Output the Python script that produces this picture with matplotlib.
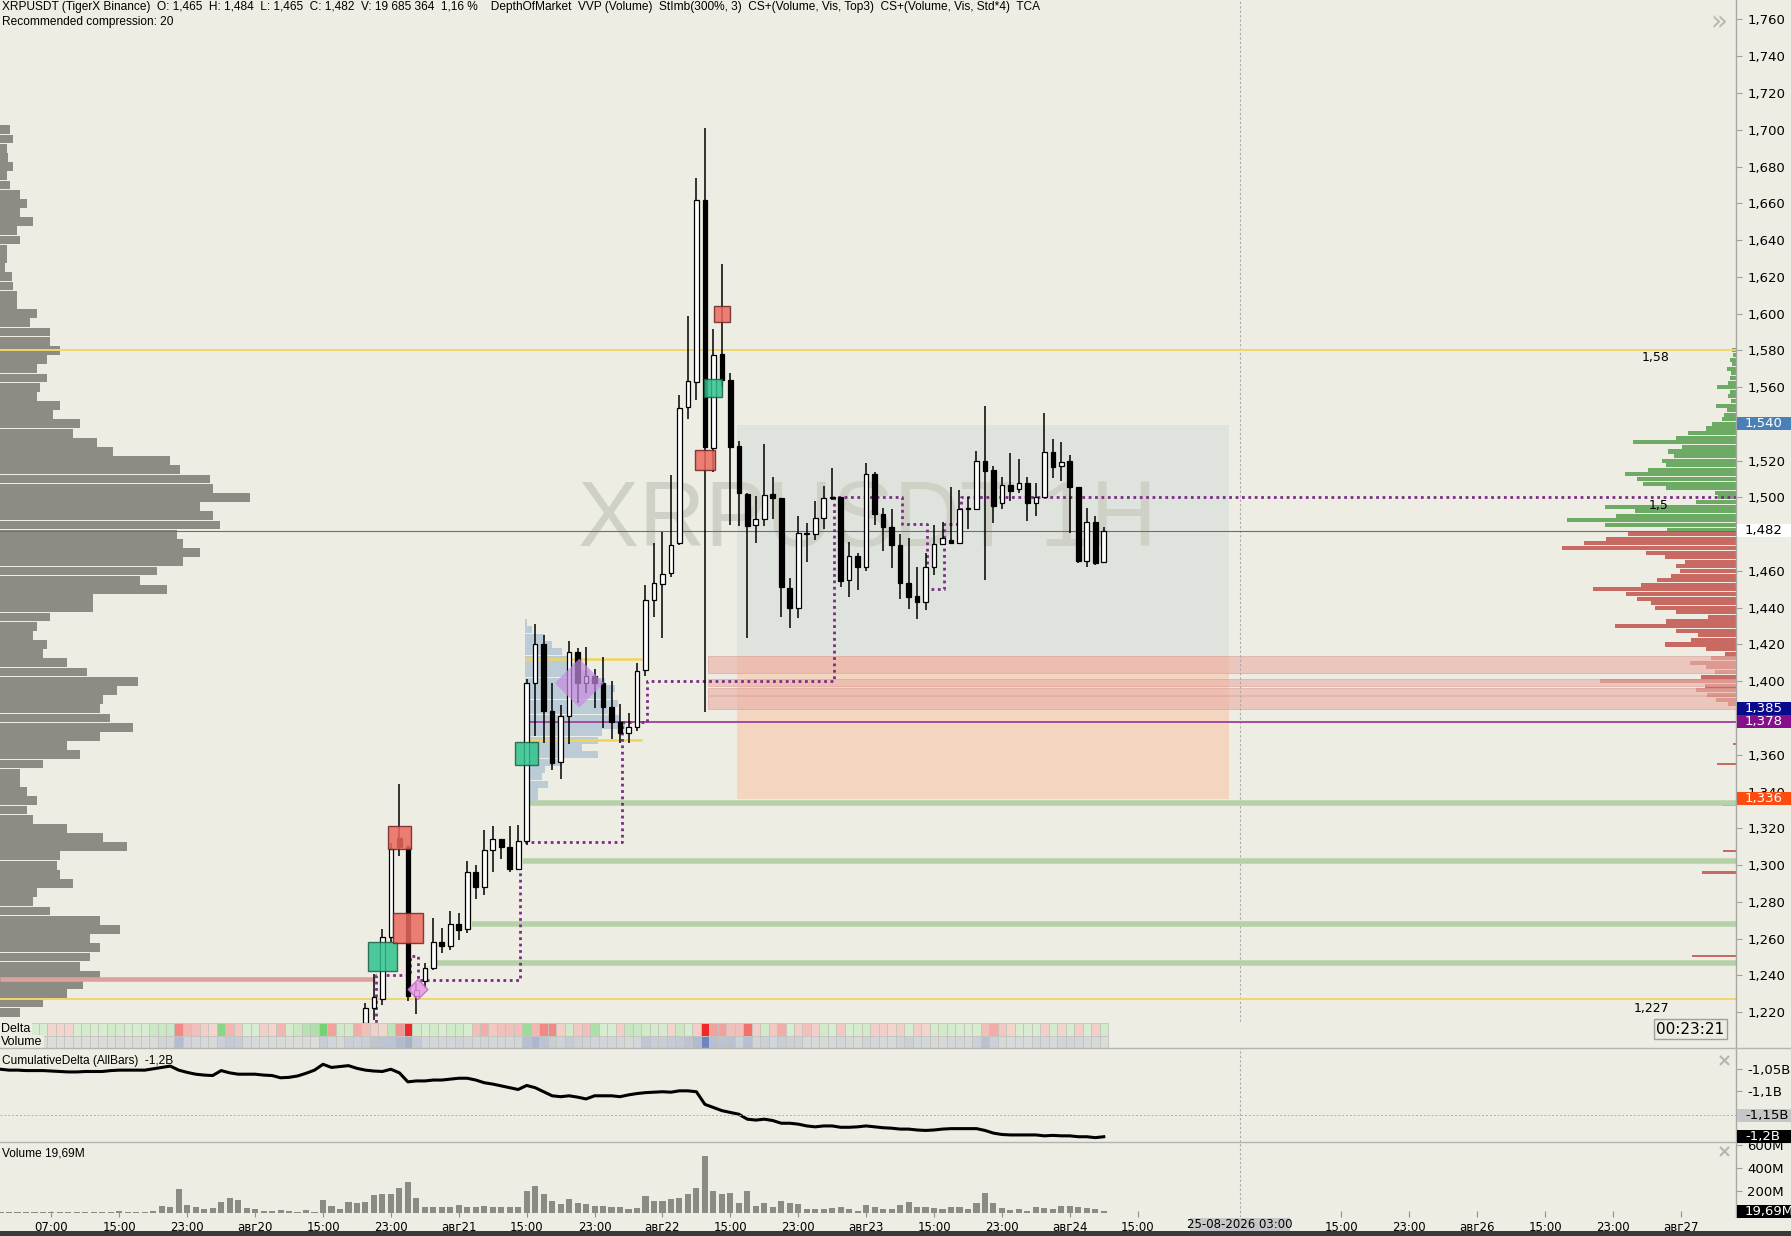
import numpy as np
import matplotlib
matplotlib.use("Agg")
import matplotlib.pyplot as plt
from matplotlib.patches import Rectangle, Polygon
from matplotlib.colors import to_rgb
from matplotlib import font_manager

# ---------------- data ----------------
candle_hours = np.arange(37, 125)
opens = [1.214, 1.222, 1.227, 1.261, 1.315, 1.310, 1.229, 1.237, 1.244, 1.258,
         1.256, 1.268, 1.265, 1.296, 1.288, 1.308, 1.314, 1.310, 1.298, 1.313,
         1.399, 1.420, 1.384, 1.356, 1.381, 1.416, 1.399, 1.403, 1.399, 1.386,
         1.378, 1.372, 1.375, 1.406, 1.444, 1.453, 1.459, 1.475, 1.549, 1.563,
         1.662, 1.527, 1.578, 1.564, 1.528, 1.502, 1.485, 1.488, 1.502, 1.4995,
         1.451, 1.440, 1.480, 1.480, 1.489, 1.4995, 1.500, 1.455, 1.468, 1.462,
         1.5125, 1.491, 1.484, 1.474, 1.4536, 1.4465, 1.443, 1.462, 1.4746, 1.4768,
         1.4754, 1.4937, 1.4937, 1.5198, 1.5149, 1.4968, 1.5067, 1.5046, 1.5076, 1.4968,
         1.5004, 1.5245, 1.5171, 1.5198, 1.5055, 1.4656, 1.4868, 1.465]
closes = [1.222, 1.228, 1.261, 1.309, 1.310, 1.229, 1.232, 1.244, 1.258, 1.256,
          1.268, 1.2645, 1.296, 1.288, 1.308, 1.314, 1.3096, 1.298, 1.313, 1.399,
          1.420, 1.3836, 1.3555, 1.381, 1.416, 1.399, 1.4026, 1.399, 1.386, 1.378,
          1.3718, 1.375, 1.4058, 1.4444, 1.4534, 1.4584, 1.4739, 1.5488, 1.5633, 1.6617,
          1.5273, 1.5777, 1.5637, 1.5273, 1.5023, 1.4846, 1.4883, 1.5012, 1.4995, 1.4514,
          1.4396, 1.4804, 1.4800, 1.4886, 1.4995, 1.5004, 1.4547, 1.4681, 1.462, 1.5125,
          1.4908, 1.4837, 1.4739, 1.4536, 1.4456, 1.4433, 1.462, 1.4746, 1.4777, 1.4754,
          1.4937, 1.4940, 1.5198, 1.5145, 1.4953, 1.5067, 1.5037, 1.5076, 1.4968, 1.5004,
          1.5245, 1.5167, 1.5194, 1.5055, 1.4656, 1.4868, 1.4645, 1.482]
highs = [1.225, 1.241, 1.265, 1.312, 1.344, 1.311, 1.236, 1.247, 1.271, 1.266,
         1.275, 1.274, 1.302, 1.300, 1.319, 1.321, 1.314, 1.321, 1.322, 1.401,
         1.431, 1.425, 1.399, 1.387, 1.422, 1.418, 1.4185, 1.4065, 1.413, 1.400,
         1.3877, 1.3827, 1.410, 1.4523, 1.4754, 1.4814, 1.512, 1.5557, 1.5988, 1.6738,
         1.7007, 1.5917, 1.6268, 1.5676, 1.5305, 1.5023, 1.5008, 1.5288, 1.511, 1.4995,
         1.456, 1.4899, 1.4862, 1.498, 1.506, 1.5158, 1.5004, 1.476, 1.4696, 1.519,
         1.514, 1.494, 1.4935, 1.480, 1.4777, 1.4623, 1.4696, 1.485, 1.4868, 1.5058,
         1.504, 1.500, 1.525, 1.5497, 1.517, 1.511, 1.5243, 1.5207, 1.511, 1.5076,
         1.546, 1.5316, 1.530, 1.523, 1.5055, 1.494, 1.490, 1.484]
lows = [1.205, 1.216, 1.224, 1.258, 1.305, 1.226, 1.219, 1.233, 1.243, 1.252,
        1.254, 1.2595, 1.263, 1.2815, 1.284, 1.296, 1.3033, 1.296, 1.2975, 1.311,
        1.370, 1.3664, 1.352, 1.347, 1.366, 1.388, 1.3935, 1.3854, 1.3745, 1.3685,
        1.3664, 1.3664, 1.3727, 1.403, 1.4351, 1.4233, 1.4566, 1.474, 1.5428, 1.5531,
        1.3834, 1.5137, 1.560, 1.4851, 1.4846, 1.4233, 1.475, 1.4846, 1.488, 1.4351,
        1.4288, 1.4342, 1.465, 1.4768, 1.483, 1.4985, 1.4514, 1.446, 1.4496, 1.460,
        1.485, 1.471, 1.4614, 1.445, 1.4391, 1.4337, 1.4387, 1.4578, 1.474, 1.475,
        1.475, 1.4826, 1.493, 1.455, 1.4859, 1.4935, 1.4982, 1.5022, 1.4873, 1.4899,
        1.500, 1.5104, 1.509, 1.4808, 1.4645, 1.4623, 1.4632, 1.465]

bar_hours = np.arange(-6, 125)
volume_m = [8, 9, 7, 10, 9, 8, 9, 10, 9, 11, 10, 12,
            15, 12, 23, 14, 15, 13, 23,
            67, 58, 212, 73, 52, 35, 44, 96, 131, 116, 44, 35, 23, 23, 29, 20, 15, 29, 9,
            116, 67, 38, 102, 87, 102, 160, 166, 169, 224, 274, 137, 58, 52, 52, 58, 73, 58,
            52, 67, 52, 58, 52, 58,
            195, 242, 169, 108, 79, 125, 87, 79, 67, 67, 58, 52, 38, 50,
            151, 108, 108, 122, 131, 169, 224, 509, 195, 169, 180, 93, 195, 67, 87, 58, 108,
            87, 82, 38, 38, 38, 44, 58, 38, 23, 73, 52, 38, 38,
            73, 96, 58, 52, 44, 38, 52, 52, 38, 87, 180, 87, 44, 29, 35, 23, 58, 50, 38, 67,
            64, 58, 44, 38, 19.69]
cum_delta_m = [-1051, -1053, -1053, -1054, -1054, -1054, -1055, -1056, -1057, -1057,
               -1056, -1056, -1056, -1054, -1053, -1053, -1053, -1053, -1050, -1047,
               -1044, -1053, -1058, -1062, -1064, -1065, -1054, -1059, -1062, -1062,
               -1062, -1064, -1065, -1070, -1069, -1066, -1060, -1053, -1040, -1047,
               -1045, -1043, -1049, -1053, -1055, -1056, -1051, -1059, -1079, -1077,
               -1077, -1075, -1075, -1073, -1071, -1071, -1075, -1081, -1084, -1088,
               -1092, -1096, -1087, -1092, -1101, -1110, -1112, -1110, -1113, -1117,
               -1110, -1110, -1110, -1112, -1108, -1105, -1103, -1102, -1101, -1102,
               -1099, -1099, -1101, -1129, -1136, -1143, -1147, -1151, -1162, -1164,
               -1162, -1165, -1171, -1171, -1173, -1177, -1179, -1177, -1177, -1180,
               -1180, -1179, -1177, -1179, -1181, -1182, -1184, -1184, -1186, -1187,
               -1186, -1184, -1183, -1183, -1183, -1183, -1187, -1193, -1196, -1197,
               -1197, -1197, -1197, -1199, -1198, -1199, -1199, -1201, -1201, -1203, -1201]

# session volume profile on the left (price bins of 0.005, from 1.700 down)
left_prof_price = np.round(np.arange(1.700, 1.2199, -0.005), 3)
left_prof_vol = [10, 13, 7, 8, 13, 7, 10, 20, 27, 20,
                 33, 17, 20, 7, 7, 5, 12, 13, 17, 17,
                 37, 30, 50, 50, 60, 47, 37, 47, 40, 37,
                 60, 53, 80, 73, 97, 113, 170, 180, 210, 213,
                 250, 200, 213, 220, 177, 183, 200, 183, 157, 140,
                 167, 93, 93, 50, 37, 33, 47, 43, 67, 87,
                 138, 117, 103, 100, 110, 133, 100, 67, 80, 43,
                 20, 20, 27, 37, 27, 33, 67, 103, 127, 60,
                 57, 60, 73, 37, 33, 50, 100, 120, 90, 100,
                 90, 80, 100, 83, 67, 43, 20]

# visible-range profile on the right (bins of 0.0025)
buy_prof_price = np.round(np.arange(1.5800, 1.4824, -0.0025), 4)
buy_prof_vol = [4, 3, 6, 4, 9, 5, 6, 8, 19, 6, 8, 5, 20, 9, 12, 14, 24, 30, 48, 60,
                103, 54, 68, 62, 74, 70, 88, 111, 99, 93, 70, 21, 18, 40, 131, 101, 120,
                169, 131, 69]
sell_prof_price = np.round(np.arange(1.4800, 1.3874, -0.0025), 4)
sell_prof_vol = [108, 130, 152, 174, 90, 71, 51, 60, 56, 65, 79, 95, 143, 110, 99, 85,
                 81, 60, 28, 70, 121, 60, 38, 45, 71, 30, 11, 25, 46, 30, 21, 35, 136,
                 31, 40, 29, 20, 8]
sell_extra_price = [1.366, 1.355, 1.333, 1.3077, 1.296, 1.268, 1.2504, 1.201]
sell_extra_vol = [3, 19, 14, 13, 34, 9, 44, 28]

# small profile of the consolidation range
range_prof_price = np.round(np.arange(1.432, 1.3359, -0.004), 3)
range_prof_vol = [2, 7, 20, 27, 37, 45, 50, 65, 80, 90, 87, 93, 83, 95, 100, 77, 73,
                  57, 73, 37, 20, 17, 23, 13, 13]

# POC migration (bar where the level changed, new level)
poc_bar = [38, 42, 43, 55, 67, 70, 92, 100, 103, 105, 107]
poc_level = [1.2404, 1.2504, 1.2377, 1.3123, 1.378, 1.4002, 1.5004, 1.4853, 1.450,
             1.4853, 1.500]

# cluster search markers
cluster_bar = [39, 41, 42, 56, 77, 78, 79]
cluster_price = [1.2503, 1.3149, 1.2658, 1.3606, 1.5204, 1.5596, 1.5999]
cluster_size = [28.5, 23, 30, 23.5, 20.5, 18, 15.5]
cluster_side = ['buy', 'sell', 'sell', 'buy', 'sell', 'buy', 'sell']

# stacked imbalance markers
imb_bar = [43.2, 62.2]
imb_price = [1.2323, 1.399]
imb_size = [10, 24.5]

# levels
support_levels = [1.334, 1.302, 1.268, 1.247]
support_start = [56.4, 55.6, 49.5, 45.3]
zone_bands = [(1.385, 1.392), (1.3925, 1.3965), (1.3975, 1.4015), (1.4045, 1.4135)]

# 1,480 sits under the last-price tag, so it is left out of the tick list
price_ticks = [v for v in np.round(np.arange(1.22, 1.761, 0.02), 3) if v != 1.48]
time_ticks = [0, 8, 16, 24, 32, 40, 48, 56, 64, 72, 80, 88, 96, 104, 112, 120, 128,
              152, 160, 168, 176, 184, 192]
time_labels = ['07:00', '15:00', '23:00', 'авг20', '15:00', '23:00', 'авг21', '15:00',
               '23:00', 'авг22', '15:00', '23:00', 'авг23', '15:00', '23:00', 'авг24',
               '15:00', '15:00', '23:00', 'авг26', '15:00', '23:00', 'авг27']

# ---------------- layout ----------------
W, H = 1791, 1236
BG = '#eeede3'
XL = (-6.06, 198.5)
AXR = 1736
PX_H = AXR / (XL[1] - XL[0])
PX_P = 1838.5

avail = {f.name for f in font_manager.fontManager.ttflist}
NARROW = [f for f in ['Liberation Sans Narrow', 'Liberation Sans'] if f in avail] + ['DejaVu Sans']
HAS_NARROW = 'Liberation Sans Narrow' in avail
HDR = 10 if HAS_NARROW else 8.6

fig = plt.figure(figsize=(W / 100, H / 100), dpi=100, facecolor=BG)


def fax(x0, y0, x1, y1):
    return fig.add_axes([x0 / W, 1 - y1 / H, (x1 - x0) / W, (y1 - y0) / H])


def fig_rect(x0, y0, x1, y1, **kw):
    fig.patches.append(Rectangle((x0 / W, 1 - y1 / H), (x1 - x0) / W, (y1 - y0) / H,
                                 transform=fig.transFigure, **kw))


def fig_txt(x, y, s, **kw):
    fig.text(x / W, 1 - y / H, s, **kw)


def right_tag(ax, val, txt, fc, tc, size=9.5):
    ypix = H - ax.transData.transform((0, val))[1]
    fig_rect(AXR + 1, ypix - 6.5, W, ypix + 6.5, fc=fc, ec='none', zorder=5)
    fig_txt(AXR + 9, ypix, txt, color=tc, fontsize=size, va='center', ha='left', zorder=6)


def comma(v, nd=3):
    return f"{v:.{nd}f}".replace('.', ',')


def mix(c1, c2, t):
    return tuple(np.array(to_rgb(c1)) * (1 - t) + np.array(to_rgb(c2)) * t)


def no_frame(ax):
    for s in ax.spines.values():
        s.set_visible(False)


# ---------------- price pane ----------------
ax = fax(0, 0, AXR, 1048)
ax.patch.set_visible(False)
ax.set_xlim(*XL)
ax.set_ylim(1.2005, 1.7706)
no_frame(ax)
ax.set_xticks([])

# profiles in a twin axes below the candles
pax = ax.twiny()
pax.set_zorder(ax.get_zorder() - 1)
pax.set_xlim(0, AXR)
no_frame(pax)
pax.set_xticks([])
pax.barh(left_prof_price, left_prof_vol, height=0.0048, left=0, color='#8c8c85', lw=0)
pax.barh(buy_prof_price, -np.array(buy_prof_vol), height=0.0022, left=AXR,
         color='#6dab64', lw=0)
pax.barh(sell_prof_price, -np.array(sell_prof_vol), height=0.0022, left=AXR,
         color='#c96a62', lw=0)
pax.barh(sell_extra_price, -np.array(sell_extra_vol), height=0.0012, left=AXR,
         color='#c96a62', lw=0)

ax.yaxis.tick_right()
ax.set_yticks(price_ticks)
ax.set_yticklabels([comma(v) for v in price_ticks])
ax.tick_params(axis='y', length=4, color='#a0a0a0', labelsize=9.5, pad=4)

# value area boxes
ax.add_patch(Rectangle((80.75, 1.4135), 58.05, 1.5395 - 1.4135, fc='#dfe3de', ec='none', zorder=0.5))
ax.add_patch(Rectangle((80.75, 1.336), 58.05, 1.4135 - 1.336, fc='#f4d6c0', ec='none', zorder=0.5))
for lo, hi in zone_bands:
    ax.add_patch(Rectangle((77.4, lo), XL[1] - 77.4, hi - lo, fc='#e8b2aa', ec='#dc9c94',
                           lw=0.6, alpha=0.65, zorder=0.8))

ax.text(96.2, 1.4868, 'XRPUSDT 1H', ha='center', va='center',
        fontsize=80 if HAS_NARROW else 66, color='#cfd0c6', family=NARROW, zorder=1)

# range profile
ax.barh(range_prof_price, np.array(range_prof_vol) / PX_H, height=0.0038, left=55.8,
        color='#b7c9d6', lw=0, alpha=0.9, zorder=1.5)
ax.hlines([1.4122, 1.3682], 55.8, 69.6, color='#f0d45a', lw=1.8, zorder=1.6)

# levels
ax.hlines(support_levels, support_start, XL[1], color='#b5d1a8', lw=4, zorder=1.2)
ax.hlines([1.58, 1.227], XL[0], XL[1], color='#f0d66a', lw=1.4, zorder=1.3)
ax.hlines(1.2383, XL[0], 38.1, color='#dba29c', lw=3.3, zorder=1.3)
ax.hlines(1.378, 55.8, XL[1], color='#a34aa3', lw=1.4, zorder=1.6)
ax.hlines(1.482, XL[0], XL[1], color='#6e6e6e', lw=0.8, zorder=1.6)
ax.axvline(140, color='#a8a8a8', lw=0.8, ls=(0, (2, 2)), zorder=1)

xs = [b + 0.2 for b in poc_bar]
ax.step([xs[0]] + xs + [XL[1]], [1.19] + poc_level + [poc_level[-1]], where='post',
        color='#7b2d86', lw=2.0, ls=(0, (1, 1.3)), zorder=2)

# candles
o, c = np.array(opens), np.array(closes)
up = c >= o
ax.vlines(candle_hours, lows, highs, color='black', lw=1.1, zorder=3)
ax.bar(candle_hours, np.maximum(np.abs(c - o), 0.0006), bottom=np.minimum(o, c), width=0.55,
       color=np.where(up, 'white', 'black'), edgecolor='black', lw=0.9, zorder=3.1)

# cluster boxes
for b, p, s, side in zip(cluster_bar, cluster_price, cluster_size, cluster_side):
    dx, dy = s / 2 / PX_H, s / 2 / PX_P
    fc, ec = ('#30c28f', '#1c5e45') if side == 'buy' else ('#ec6a5f', '#6e2622')
    ax.add_patch(Rectangle((b - dx, p - dy), 2 * dx, 2 * dy, fc=fc, ec=ec, lw=1,
                           alpha=0.85, zorder=4))

for b, p, s, fc, ec, a in zip(imb_bar, imb_price, imb_size, ['#e79ae8', '#c68de0'],
                              ['#c466c4', 'none'], [0.85, 0.7]):
    dx, dy = s / PX_H, s / PX_P
    ax.add_patch(Polygon([(b - dx, p), (b, p + dy), (b + dx, p), (b, p - dy)], closed=True,
                         fc=fc, ec=ec, lw=1, alpha=a, zorder=4))

ax.text(189.0, 1.5762, '1,58', fontsize=9, ha='center', va='center')
ax.text(189.4, 1.4958, '1,5', fontsize=9, ha='center', va='center')
ax.text(188.6, 1.2222, '1,227', fontsize=9, ha='center', va='center')

# ---------------- delta / volume strip ----------------
st = fax(0, 1023, AXR, 1048)
st.set_facecolor(BG)
st.set_xlim(*XL)
st.set_ylim(0, 2)
no_frame(st)
st.set_xticks([])
st.set_yticks([])
delta = np.diff(np.array(cum_delta_m, float), prepend=-1050.0)
vmax = max(volume_m)
for h, d, v in zip(bar_hours, delta, volume_m):
    t = min(1.0, abs(d) / 16.0) ** 1.4
    dc = mix('#d8ecd1', '#55c655', t) if d >= 0 else mix('#f2dad2', '#f02828', t)
    vc = mix('#dddedb', '#6f85c0', (v / vmax) ** 1.1)
    st.add_patch(Rectangle((h - 0.5, 1), 1, 1, fc=dc, ec='#c4c4bc', lw=0.6))
    st.add_patch(Rectangle((h - 0.5, 0), 1, 1, fc=vc, ec='#c4c4bc', lw=0.6))
lab = dict(fontsize=9, va='center', family=NARROW,
           bbox=dict(boxstyle='square,pad=0.1', fc=BG, ec='none'))
st.text(-5.95, 1.5, 'Delta', **lab)
st.text(-5.95, 0.5, 'Volume', **lab)

# ---------------- cumulative delta ----------------
cax = fax(0, 1048, AXR, 1142)
cax.patch.set_visible(False)
cax.set_xlim(*XL)
cax.set_ylim(-1212.7, -1003.8)
no_frame(cax)
cax.set_xticks([])
cax.plot(bar_hours, cum_delta_m, color='black', lw=2.2)
cax.axhline(-1153, color='#b0b0b0', lw=0.7, ls=(0, (2, 2)))
cax.axvline(140, color='#a8a8a8', lw=0.8, ls=(0, (2, 2)))
cax.yaxis.tick_right()
cax.set_yticks([-1050, -1100])
cax.set_yticklabels(['-1,05B', '-1,1B'])
cax.tick_params(axis='y', length=4, color='#a0a0a0', labelsize=9.5, pad=4)
cax.text(0.001, 0.93, 'CumulativeDelta (AllBars)  -1,2B', transform=cax.transAxes,
         fontsize=HDR, va='top', family=NARROW)

# ---------------- volume ----------------
vax = fax(0, 1142, AXR, 1217)
vax.patch.set_visible(False)
vax.set_xlim(*XL)
vax.set_ylim(-33, 628)
no_frame(vax)
vax.bar(bar_hours, volume_m, width=0.72, color='#8b8b86', lw=0)
vax.axvline(140, color='#a8a8a8', lw=0.8, ls=(0, (2, 2)))
vax.yaxis.tick_right()
vax.set_yticks([200, 400, 600])
vax.set_yticklabels(['200M', '400M', '600M'])
vax.tick_params(axis='y', length=4, color='#a0a0a0', labelsize=9.5, pad=4)
vax.set_xticks(time_ticks)
vax.set_xticklabels(time_labels)
vax.tick_params(axis='x', length=4, direction='in', color='#909090', labelsize=8.5, pad=3)
vax.text(0.001, 0.93, 'Volume 19,69M', transform=vax.transAxes, fontsize=HDR, va='top',
         family=NARROW)

# ---------------- frame, tags and labels ----------------
fig.add_artist(plt.Line2D([AXR / W, AXR / W], [1 - 1217 / H, 1], transform=fig.transFigure,
                          color='#a8a8a8', lw=1))
for yy in (1048, 1142):
    fig.add_artist(plt.Line2D([0, 1], [1 - yy / H, 1 - yy / H], transform=fig.transFigure,
                              color='#b4b4b4', lw=1))
fig_rect(0, 1231, W, H, fc='#3a3a3a', ec='none', zorder=5)

right_tag(ax, 1.540, '1,540', '#4a80b8', 'white')
right_tag(ax, 1.482, '1,482', 'white', 'black')
right_tag(ax, 1.385, '1,385', '#0a0a8c', 'white')
right_tag(ax, 1.378, '1,378', '#86108a', 'white')
right_tag(ax, 1.336, '1,336', '#ff4a10', 'white')
right_tag(cax, -1153, '-1,15B', '#c6c6c6', 'black')
right_tag(cax, -1201, '-1,2B', 'black', 'white')
right_tag(vax, 19.69, '19,69M', 'black', 'white')

fig_rect(1654, 1019, 1727, 1039, fc=BG, ec='#a0a0a0', lw=1, zorder=5)
fig_txt(1690.5, 1029, '00:23:21', fontsize=11, ha='center', va='center', zorder=6)
fig_txt(1719, 22, '»', fontsize=20, color='#b9b9b0', ha='center', va='center')
fig_txt(1724, 1061, '×', fontsize=13, color='#b4b4b4', ha='center', va='center', weight='bold')
fig_txt(1724, 1152, '×', fontsize=13, color='#b4b4b4', ha='center', va='center', weight='bold')

cx = (140 - XL[0]) * PX_H
fig_rect(cx - 50, 1218, cx + 50, 1231, fc='#c6c6c6', ec='none', zorder=5)
fig_txt(cx, 1224.5, '25-08-2026 03:00', fontsize=8.5, ha='center', va='center', zorder=6)

fig_txt(2, 1, 'XRPUSDT (TigerX Binance)  O: 1,465  H: 1,484  L: 1,465  C: 1,482  '
        'V: 19 685 364  1,16 %    DepthOfMarket  VVP (Volume)  StImb(300%, 3)  '
        'CS+(Volume, Vis, Top3)  CS+(Volume, Vis, Std*4)  TCA',
        fontsize=HDR, va='top', family=NARROW)
fig_txt(2, 16, 'Recommended compression: 20', fontsize=HDR, va='top', family=NARROW)

fig.savefig('out.png', dpi=100, facecolor=BG)
